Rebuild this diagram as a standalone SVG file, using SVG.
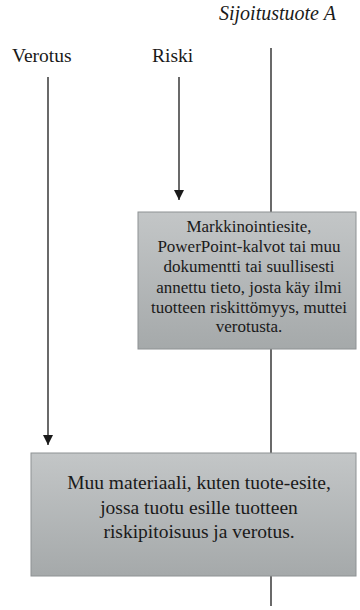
<svg xmlns="http://www.w3.org/2000/svg" width="360" height="610" viewBox="0 0 360 610">
<style>
text{font-family:"Liberation Serif","Times New Roman",serif;fill:#1a1a1a}
.h{font-size:19.5px}
.b1{font-size:17px;text-anchor:middle}
.b2{font-size:19.5px;text-anchor:middle}
.box{fill:url(#g);stroke:#8e9294;stroke-width:1}
.ln{stroke:#1a1a1a;stroke-width:1.3;fill:none}
</style>
<defs>
<linearGradient id="g" x1="0" y1="0" x2="0" y2="1">
<stop offset="0" stop-color="#c3c6c7"/>
<stop offset="1" stop-color="#a5a9aa"/>
</linearGradient>
<marker id="ar" viewBox="0 0 10 10" refX="10" refY="5" markerWidth="10" markerHeight="10" markerUnits="userSpaceOnUse" orient="auto">
<path d="M0,0 L10,5 L0,10 z" fill="#1a1a1a"/>
</marker>
</defs>
<g id="labels">
<text id="sijoitustuote" x="219" y="20" style="font-size:20px;font-style:italic">Sijoitustuote A</text>
<text id="verotus" class="h" x="12" y="62">Verotus</text>
<text id="riski" class="h" x="152" y="62">Riski</text>
</g>
<g id="connectors">
<line class="ln" x1="271" y1="48" x2="271" y2="606"/>
<line class="ln" x1="48" y1="77" x2="48" y2="445" marker-end="url(#ar)"/>
<line class="ln" x1="179" y1="77" x2="179" y2="200" marker-end="url(#ar)"/>
</g>
<g id="box1">
<rect class="box" x="138" y="212" width="218" height="137"/>
<text class="b1" x="249" y="232">Markkinointiesite,</text>
<text class="b1" x="249" y="252">PowerPoint-kalvot tai muu</text>
<text class="b1" x="249" y="272">dokumentti tai suullisesti</text>
<text class="b1" x="249" y="293">annettu tieto, josta käy ilmi</text>
<text class="b1" x="249" y="313">tuotteen riskittömyys, muttei</text>
<text class="b1" x="249" y="332">verotusta.</text>
</g>
<g id="box2">
<rect class="box" x="31" y="453" width="325" height="123"/>
<text class="b2" x="199" y="489">Muu materiaali, kuten tuote-esite,</text>
<text class="b2" x="199" y="514">jossa tuotu esille tuotteen</text>
<text class="b2" x="199" y="538">riskipitoisuus ja verotus.</text>
</g>
</svg>
